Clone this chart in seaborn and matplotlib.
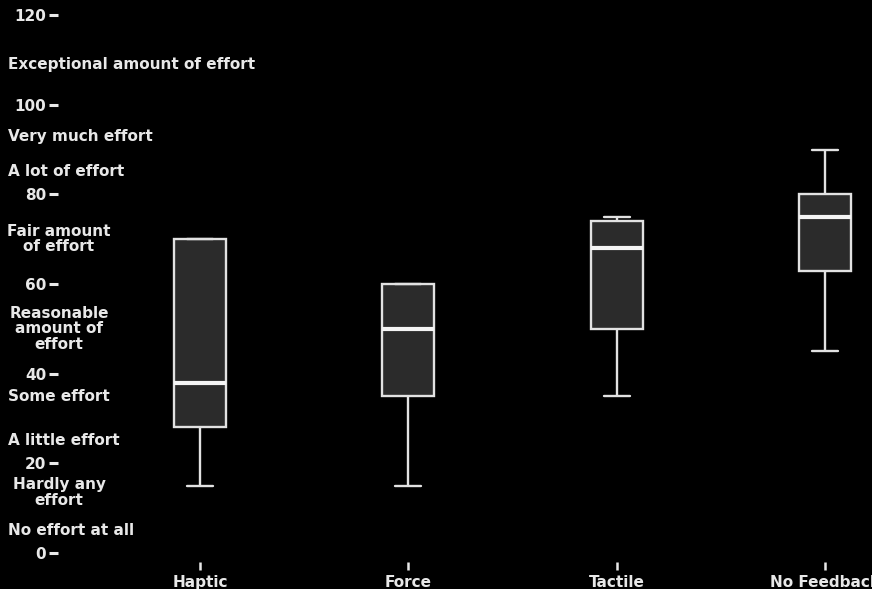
import matplotlib
matplotlib.use("Agg")
import matplotlib.pyplot as plt
import matplotlib.transforms as mtransforms
import pandas as pd
import seaborn as sns

# Perceived effort per feedback condition (min, Q1, median, Q3, max)
conditions = ["Haptic", "Force", "Tactile", "No Feedback"]
haptic = [15, 28, 38, 70, 70]
force = [15, 35, 50, 60, 60]
tactile = [35, 50, 68, 74, 75]
no_feedback = [45, 63, 75, 80, 90]

y_ticks = [0, 20, 40, 60, 80, 100, 120]

# Verbal anchors of the effort scale and where they sit on it
anchor_labels = [
    "Exceptional amount of effort",
    "Very much effort",
    "A lot of effort",
    "Fair amount\nof effort",
    "Reasonable\namount of\neffort",
    "Some effort",
    "A little effort",
    "Hardly any\neffort",
    "No effort at all",
]
anchor_values = [109, 93, 85, 70, 50, 35, 25, 13.5, 5]

sns.set_style("dark")
plt.rcParams["font.family"] = ["DejaVu Sans"]
plt.rcParams["font.weight"] = "bold"

df = pd.DataFrame({
    "condition": [c for c, v in zip(conditions, [haptic, force, tactile, no_feedback]) for _ in v],
    "score": haptic + force + tactile + no_feedback,
})

W, H = 872, 589
fig = plt.figure(figsize=(W / 100, H / 100), dpi=100, facecolor="black")
ax = fig.add_axes([58 / W, 27 / H, (W - 58) / W, 562 / H])
ax.set_facecolor("black")

fg = "#e8e8e8"
fs = 11
sns.boxplot(
    data=df, x="condition", y="score", order=conditions, ax=ax,
    width=0.25, color="#2b2b2b", saturation=1, linecolor="#e2e2e2",
    linewidth=1.7, fliersize=0,
    medianprops=dict(color="#f4f4f4", linewidth=3),
)

ax.set_xlim(-0.682, 3.226)
ax.set_ylim(-2.0, 123.35)
ax.set_yticks(y_ticks)
ax.set_yticklabels([str(t) for t in y_ticks], fontweight="bold")
ax.set_xticks(range(len(conditions)))
ax.set_xticklabels(conditions, fontweight="bold")
ax.set_xlabel("")
ax.set_ylabel("")
for s in ax.spines.values():
    s.set_visible(False)
ax.grid(False)

ax.tick_params(axis="y", direction="out", length=6.5, width=2.2, color=fg,
               labelcolor=fg, labelsize=fs, pad=2, left=True)
ax.tick_params(axis="x", direction="out", length=6, width=1.8, color=fg,
               labelcolor=fg, labelsize=fs, pad=3.5, bottom=True)

trans = mtransforms.blended_transform_factory(fig.transFigure, ax.transData)
for label, val in zip(anchor_labels, anchor_values):
    if "\n" in label:
        ax.text(59 / W, val, label, transform=trans, ha="center", va="center",
                multialignment="center", color=fg, fontsize=fs,
                fontweight="bold", linespacing=1.05, clip_on=False)
    else:
        ax.text(8 / W, val, label, transform=trans, ha="left", va="center",
                color=fg, fontsize=fs, fontweight="bold", clip_on=False)

fig.savefig("out.png", dpi=100, facecolor="black")
